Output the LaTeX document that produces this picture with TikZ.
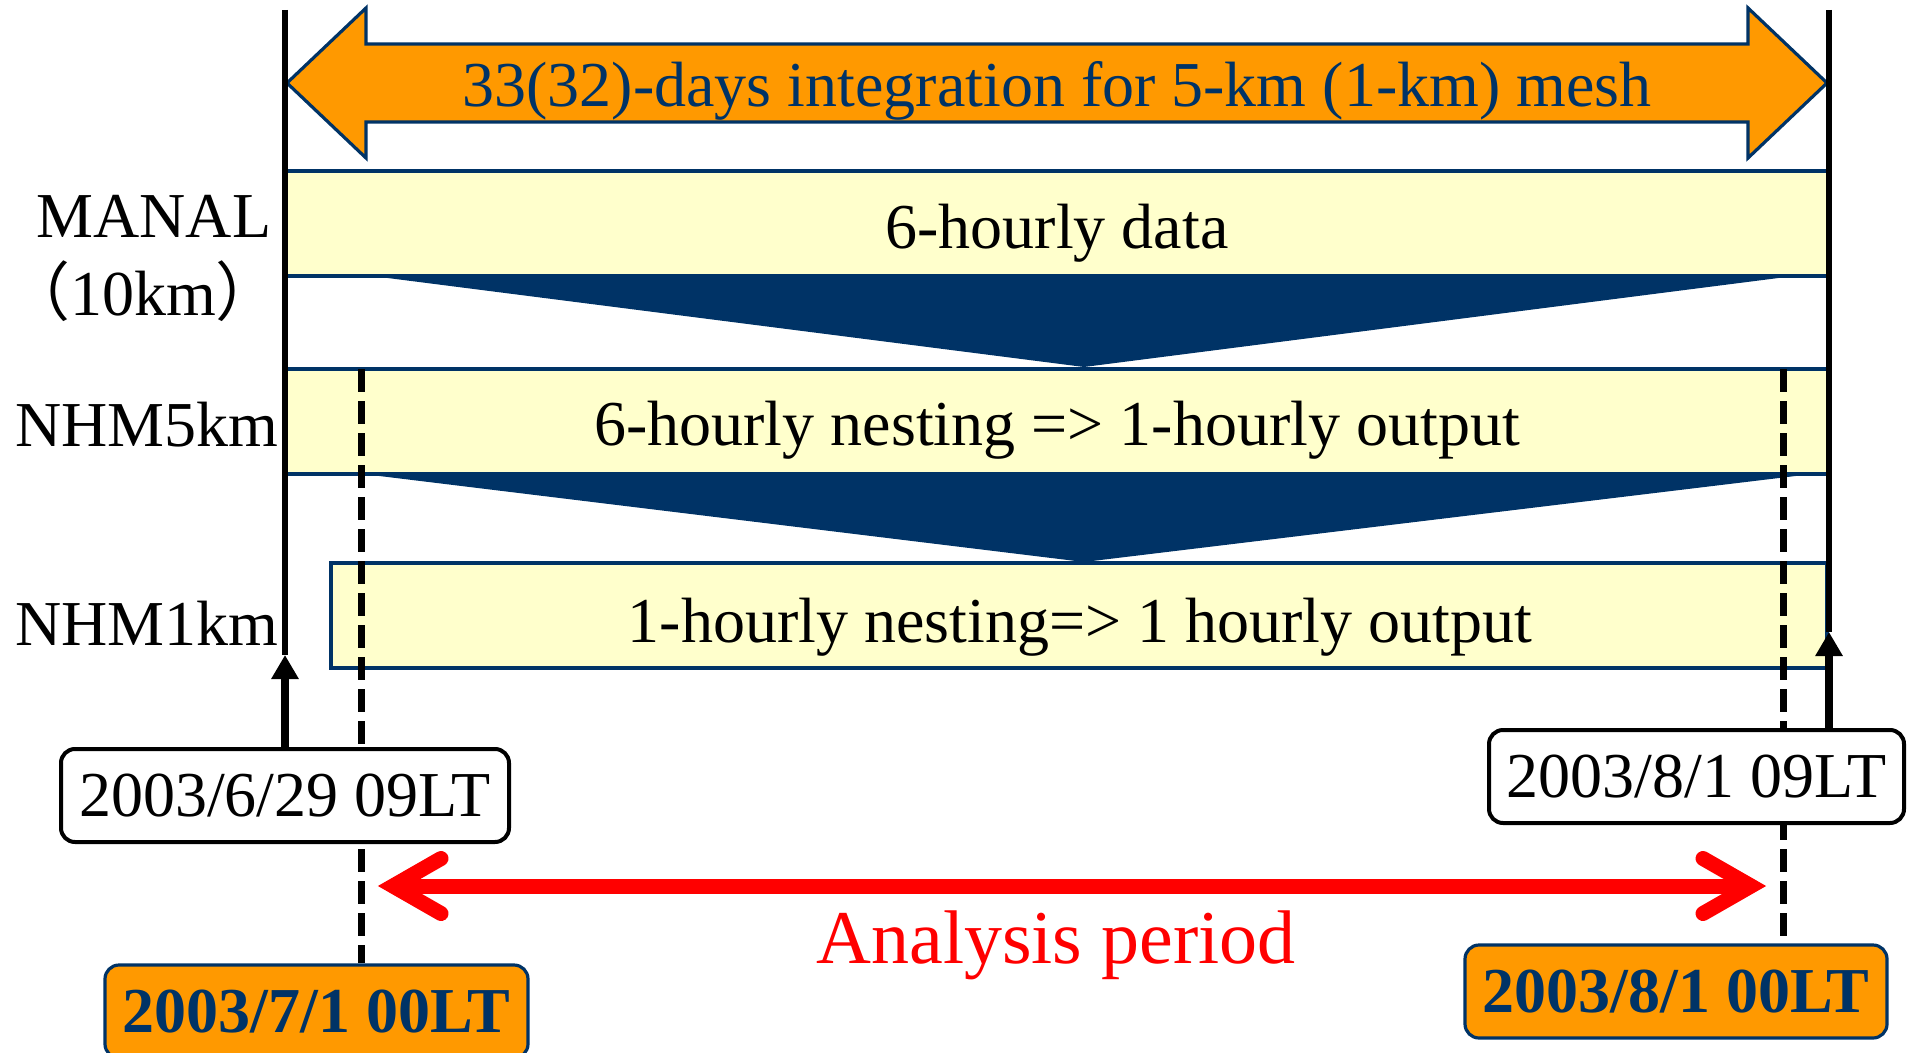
\documentclass[tikz,border=0pt]{standalone}
\usepackage{fontspec}
\setmainfont{Liberation Serif}
\newfontfamily\cjkfont{Noto Sans CJK JP}
\usetikzlibrary{arrows.meta}
\definecolor{navy}{HTML}{003366}
\definecolor{orangefill}{HTML}{FF9900}
\definecolor{barfill}{HTML}{FFFFCC}
\definecolor{periodred}{HTML}{FF0000}
\tikzset{
  barbox/.style={draw=navy, fill=barfill, line width=1.8pt, inner sep=0pt, minimum height=52.5pt},
  lbl/.style={font=\fontsize{32}{38}\selectfont, anchor=base, inner sep=0pt},
  datebox/.style={draw=black, fill=white, line width=2pt, rounded corners=7pt, inner sep=0pt,
    minimum height=46.5pt, font=\fontsize{32}{38}\selectfont},
  keybox/.style={draw=navy, fill=orangefill, line width=1.6pt, rounded corners=7pt, inner sep=0pt,
    minimum height=46.5pt, text=navy, font=\fontsize{32}{38}\selectfont\bfseries},
  funnel/.style={fill=navy},
  timeline/.style={line width=2.6pt, draw=black},
  startarrow/.style={line width=4pt, draw=black, -{Triangle[length=12pt,width=13pt]}},
  cutline/.style={line width=3.5pt, draw=black, dash pattern=on 11.5pt off 4.5pt},
  periodline/.style={draw=periodred, line width=7.5pt, line cap=round, line join=miter},
  bigarrow/.style={draw=navy, fill=orangefill, line width=1.6pt, line join=miter},
}
\begin{document}
\begin{tikzpicture}[x=0.5pt,y=-0.5pt]
\useasboundingbox (0,0) rectangle (1914,1053);

% top double arrow
\coordinate (tL) at (287,83);
\coordinate (tR) at (1827,83);
\draw[bigarrow] (tL) -- (366,8) -- (366,44) -- (1748,44) -- (1748,8) -- (tR)
  -- (1748,158) -- (1748,122) -- (366,122) -- (366,158) -- cycle;
\node[lbl, text=navy] (toptext) at (1057,107) {33(32)-days integration for 5-km (1-km) mesh};

% bars
\node[barbox, minimum width=772pt] (manal) at (1057,223.5) {};
\node[barbox, minimum width=772pt] (nhm5) at (1057,421.5) {};
\node[barbox, minimum width=748pt] (nhm1) at (1079,615.5) {};

% funnels
\fill[funnel] (372,276) -- (1794,276) -- (1084,367) -- cycle;
\fill[funnel] (363,474) -- (1812,474) -- (1084,562) -- cycle;

\node[lbl] (t1) at (1057,249) {6-hourly data};
\node[lbl] (t2) at (1057,445) {6-hourly nesting => 1-hourly output};
\node[lbl] (t3) at (1080,642) {1-hourly nesting=> 1 hourly output};

% left labels
\node[lbl] (lmanal) at (154,238) {MANAL};
\node[lbl] (l10) at (143,315) {{\cjkfont （}10km{\cjkfont ）}};
\node[lbl] (l5) at (147,446) {NHM5km};
\node[lbl] (l1) at (147,645) {NHM1km};

% boxes
\node[keybox, minimum width=211.5pt] (o701) at (316.5,1011.5) {2003/7/1 00LT};
\node[keybox, minimum width=211pt] (o801) at (1676,991.5) {2003/8/1 00LT};

% dashed cut lines (behind the white boxes)
\coordinate (dL) at (361,369);
\coordinate (dR) at (1783,369);
\draw[cutline] (dL) -- (dL |- o701.north);
\draw[cutline] (dR) -- (dR |- o801.north);

\node[datebox, minimum width=224pt] (b629) at (285,795.5) {2003/6/29 09LT};
\node[datebox, minimum width=207.5pt] (b801) at (1696.5,776.5) {2003/8/1 09LT};

% solid time lines and start arrows
\coordinate (topL) at (285,10);
\coordinate (tipL) at (285,655);
\coordinate (topR) at (1829,10);
\coordinate (tipR) at (1829,632);
\draw[timeline] (topL) -- (tipL);
\draw[timeline] (topR) -- (tipR);
\draw[startarrow] (b629.north -| tipL) -- (tipL);
\draw[startarrow] (b801.north -| tipR) -- (tipR);

% analysis period arrow
\coordinate (aL) at (393,886);
\coordinate (aR) at (1751,886);
\draw[periodline, line cap=butt] (aL) -- (aR);
\draw[periodline] (441,858.5) -- (aL) -- (441,913.5);
\draw[periodline] (1703,858.5) -- (aR) -- (1703,913.5);
\node[lbl, text=periodred, font=\fontsize{38}{44}\selectfont] (ap) at (1056,963) {Analysis period};
\end{tikzpicture}
\end{document}
